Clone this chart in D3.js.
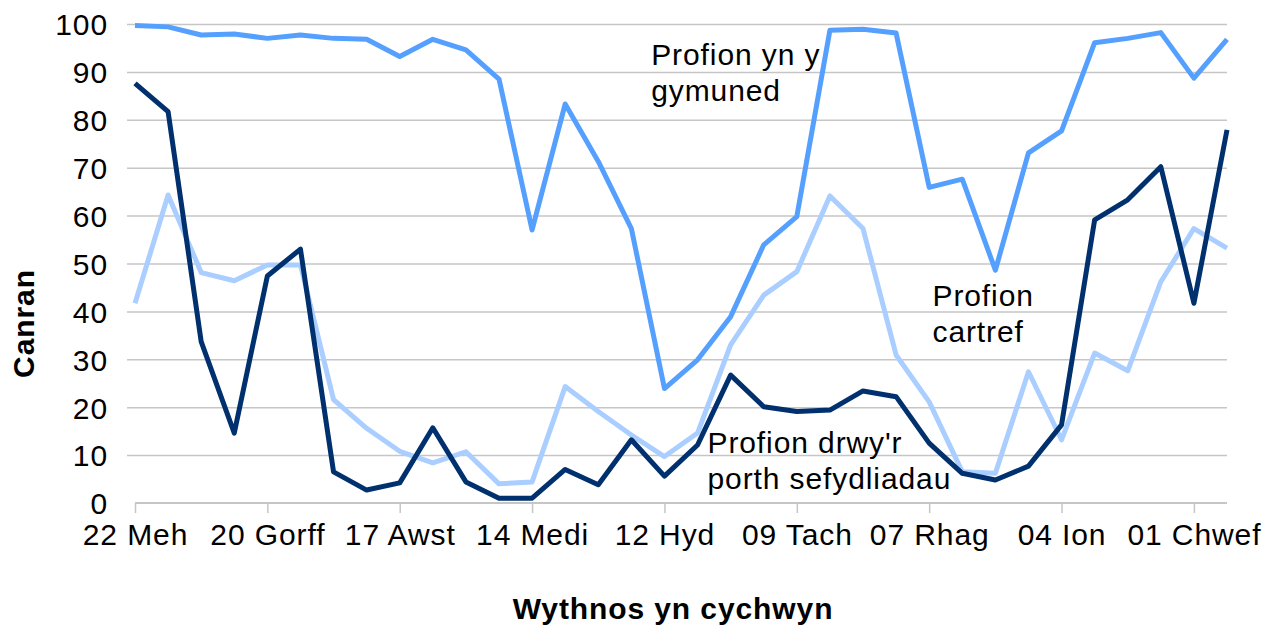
<!DOCTYPE html>
<meta charset="utf-8">
<script src="https://d3js.org/d3.v7.min.js"></script>
<style>
  body { margin: 0; background: #fff; }
  text { font-family: "Liberation Sans", Arial, sans-serif; fill: #000; letter-spacing: 0.9px; }
</style>
<div id="chart"></div>
<script>

// weekly data, week starting 22 Meh .. 08 Chwef (34 weeks)
var weeks = d3.range(34);
var tickWeeks = [0, 4, 8, 12, 16, 20, 24, 28, 32];
var tickLabels = ["22 Meh", "20 Gorff", "17 Awst", "14 Medi", "12 Hyd", "09 Tach", "07 Rhag", "04 Ion", "01 Chwef"];

var community = [99.7, 99.4, 97.7, 97.9, 97.0, 97.7, 97.0, 96.8, 93.2, 96.8, 94.6, 88.5, 57.0, 83.3, 71.3, 57.3,
  23.9, 29.9, 38.9, 53.9, 59.8, 98.7, 98.9, 98.1, 65.9, 67.6, 48.6, 73.1, 77.7, 96.1, 97.0, 98.2, 88.7, 96.8];
var portal = [87.6, 81.7, 33.7, 14.6, 47.4, 53.0, 6.5, 2.7, 4.2, 15.7, 4.4, 1.0, 1.0, 7.0, 3.8, 13.2,
  5.6, 12.1, 26.7, 20.1, 19.1, 19.4, 23.4, 22.2, 12.5, 6.2, 4.8, 7.7, 16.3, 59.1, 63.3, 70.2, 41.7, 77.9];
var home = [41.7, 64.3, 48.1, 46.4, 49.7, 49.7, 21.6, 15.6, 10.8, 8.4, 10.7, 4.0, 4.4, 24.3, 19.1, 14.2,
  9.7, 14.6, 33.0, 43.4, 48.3, 64.1, 57.3, 30.9, 21.1, 6.5, 6.2, 27.4, 13.2, 31.3, 27.6, 46.2, 57.3, 53.2];

var seriesColors = {community: "#55a0ff", portal: "#00306e", home: "#a9ceff"};

var margin = {top: 24, right: 50, bottom: 126, left: 135},
    width = 1277 - margin.left - margin.right,
    height = 629 - margin.top - margin.bottom;

var svg = d3.select("#chart")
  .append("svg")
    .attr("width", 1277)
    .attr("height", 629)
  .append("g")
    .attr("transform", "translate(" + margin.left + "," + margin.top + ")");

var x = d3.scaleLinear().domain([0, 33]).range([0, width]);
var y = d3.scaleLinear().domain([0, 100]).range([height, 0]);

// gridlines
svg.append("g")
  .call(d3.axisLeft(y).tickValues(d3.range(10, 101, 10)).tickSize(-width - 8).tickFormat(""))
  .attr("transform", "translate(-8,0)")
  .call(function(g) { g.select(".domain").remove(); })
  .selectAll("line").attr("stroke", "#c6c6c6").attr("stroke-width", 1.5);

// y labels
svg.append("g")
  .call(d3.axisLeft(y).tickValues(d3.range(0, 101, 10)).tickSize(0).tickPadding(27))
  .call(function(g) { g.select(".domain").remove(); })
  .selectAll("text").style("font-size", "30px").attr("dy", "0.36em");

// x axis
var xAxis = svg.append("g")
  .attr("transform", "translate(0," + height + ")")
  .call(d3.axisBottom(x).tickValues(tickWeeks).tickSize(10).tickPadding(11)
    .tickFormat(function(d, i) { return tickLabels[i]; }));
xAxis.select(".domain").attr("stroke", "#c6c6c6").attr("stroke-width", 2).attr("d", "M0,0H" + width);
xAxis.selectAll("line").attr("stroke", "#c6c6c6").attr("stroke-width", 1.5);
xAxis.selectAll("text").style("font-size", "30px");

// lines
var line = d3.line()
  .x(function(d, i) { return x(weeks[i]); })
  .y(function(d) { return y(d); });

[[community, seriesColors.community], [home, seriesColors.home], [portal, seriesColors.portal]].forEach(function(s) {
  svg.append("path")
    .datum(s[0])
    .attr("fill", "none")
    .attr("stroke", s[1])
    .attr("stroke-width", 5)
    .attr("stroke-linejoin", "round")
    .attr("d", line);
});

// labels on the chart
function label(lines, wx, vy) {
  var t = svg.append("text").style("font-size", "30px")
    .attr("x", x(wx)).attr("y", y(vy));
  lines.forEach(function(s, i) {
    t.append("tspan").attr("x", x(wx)).attr("dy", i ? 36 : 0).text(s);
  });
}
label(["Profion yn y", "gymuned"], 15.6, 91.5);
label(["Profion drwy'r", "porth sefydliadau"], 17.3, 10.4);
label(["Profion", "cartref"], 24.1, 41.2);

// axis titles
svg.append("text")
  .attr("x", width / 2 - 8).attr("y", height + 116)
  .attr("text-anchor", "middle")
  .style("font-size", "30px").style("font-weight", "bold")
  .text("Wythnos yn cychwyn");

svg.append("text")
  .attr("transform", "translate(" + (-101) + "," + (height / 2 + 60) + ") rotate(-90)")
  .attr("text-anchor", "middle")
  .style("font-size", "30px").style("font-weight", "bold")
  .text("Canran");

</script>
